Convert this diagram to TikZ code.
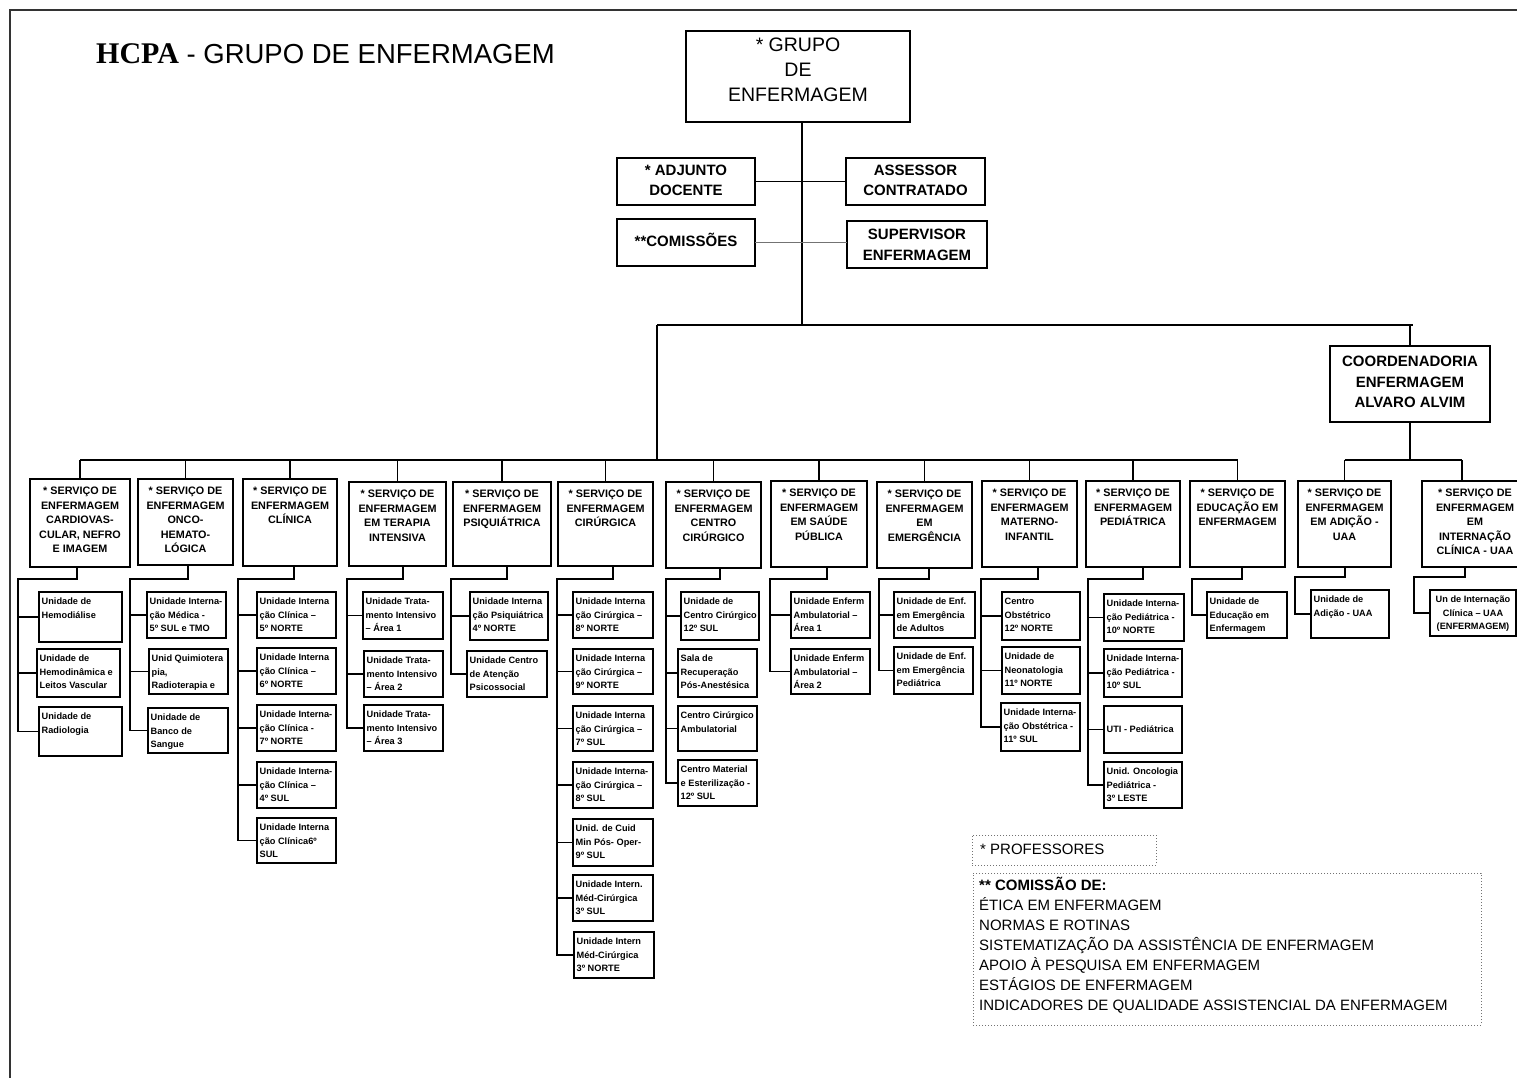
\documentclass[tikz,border=0pt]{standalone}
\usepackage{fontspec}
\setmainfont{Liberation Sans}
\newfontfamily\titleserif{Liberation Serif}
\tikzset{
 box/.style={draw, line width=1.5pt, inner sep=0pt, outer sep=0pt},
 tbox/.style={draw, line width=1.3pt, inner sep=0pt, outer sep=0pt},
 stext/.style={font=\bfseries\fontsize{10.8}{14.5}\selectfont, align=center, inner sep=0pt},
 utext/.style={font=\bfseries\fontsize{9.2}{13.5}\selectfont, align=left, inner sep=0pt},
 ttext/.style={font=\bfseries\fontsize{15}{20}\selectfont, align=center, inner sep=0pt},
 conn/.style={line width=1.5pt},
 tconn/.style={line width=1.3pt},
 legbox/.style={draw=black!55, dotted, line width=1pt, inner sep=0pt, outer sep=0pt},
}
\newcommand\RB[6]{\node[#6, anchor=north west, minimum width={(#4-#2)*1pt}, minimum height={(#5-#3)*1pt}] (#1) at (#2,#3) {};}
\newcommand\SBX[6]{\RB{#1}{#2}{#3}{#4}{#5}{box}\node[stext, anchor=north] (#1t) at ([yshift=-8pt]#1.north) {#6};}
\newcommand\UBX[6]{\RB{#1}{#2}{#3}{#4}{#5}{box}\node[utext, anchor=north west] (#1t) at ([xshift=2.5pt,yshift=-6pt]#1.north west) {#6};}
\newcommand\COL[6]{\draw[conn] (#1.south -| #2,0) -- (#2,#4) -- (#3,#4) |- (#5.west);
 \foreach \b in {#6}{\draw[conn] (#3,0 |- \b.west) -- (\b.west);}}
\begin{document}
\begin{tikzpicture}[x=1pt,y=-1pt]
\useasboundingbox (0,0) rectangle (1517,1078);
\clip (0,0) rectangle (1517,1078);
% frame
\draw[line width=2pt, black!80] (10,1078) -- (10,10) -- (1517,10);
% title
\node[anchor=base west, inner sep=0pt] (title) at (96,64) {{\titleserif\bfseries\fontsize{30}{30}\selectfont HCPA}\fontsize{27.5}{30}\selectfont\ - GRUPO DE ENFERMAGEM};
% top level
\RB{G}{686}{31}{910}{122}{tbox}
\node[font=\fontsize{19.5}{25}\selectfont, align=center, inner sep=0pt, anchor=north] (Gt) at ([yshift=-7pt]G.north) {* GRUPO\\DE\\ENFERMAGEM};
\RB{A}{617}{158}{755}{205}{tbox}
\node[ttext, anchor=north] (At) at ([yshift=-7pt]A.north) {* ADJUNTO\\DOCENTE};
\RB{B}{846}{158}{985}{205}{tbox}
\node[ttext, anchor=north] (Bt) at ([yshift=-7pt]B.north) {ASSESSOR\\CONTRATADO};
\RB{Cm}{617}{219}{755}{266}{tbox}
\node[ttext, anchor=base] (Cmt) at ([yshift=-4pt]Cm.center) {**COMISSÕES};
\RB{Sp}{847}{221}{987}{268}{tbox}
\node[ttext, anchor=north, font=\bfseries\fontsize{15}{21}\selectfont] (Spt) at ([yshift=-8pt]Sp.north) {SUPERVISOR\\ENFERMAGEM};
\RB{Co}{1330}{346}{1490}{422}{tbox}
\node[ttext, anchor=north, font=\bfseries\fontsize{15}{20.5}\selectfont] (Cot) at ([yshift=-10pt]Co.north) {COORDENADORIA\\ENFERMAGEM\\ALVARO ALVIM};
\coordinate (hub) at (802,325);
\coordinate (tl) at (657,325);
\coordinate (tr) at (1413,325);
\coordinate (bus) at (0,460);
\draw[tconn] (G.south -| hub) -- (hub);
\draw[tconn] (A.east) -- (B.west);
\draw[line width=1.8pt, black!55] (Cm.east) -- (Cm.east -| Sp.west);
\draw[tconn] (tl) -- (tr);
\draw[tconn] (Co.north |- tr) -- (Co.north);
\draw[tconn] (tl) -- (tl |- bus);
% services
\SBX{S1}{30}{479}{130}{567}{* SERVIÇO DE\\ENFERMAGEM\\CARDIOVAS-\\CULAR, NEFRO\\E IMAGEM}
\SBX{S2}{138}{479}{233}{565}{* SERVIÇO DE\\ENFERMAGEM\\ONCO-\\HEMATO-\\LÓGICA}
\SBX{S3}{243}{479}{337}{566}{* SERVIÇO DE\\ENFERMAGEM\\CLÍNICA}
\SBX{S4}{349}{482}{446}{566}{* SERVIÇO DE\\ENFERMAGEM\\EM TERAPIA\\INTENSIVA}
\SBX{S5}{453}{482}{551}{566}{* SERVIÇO DE\\ENFERMAGEM\\PSIQUIÁTRICA}
\SBX{S6}{558}{482}{653}{566}{* SERVIÇO DE\\ENFERMAGEM\\CIRÚRGICA}
\SBX{S7}{666}{482}{761}{568}{* SERVIÇO DE\\ENFERMAGEM\\CENTRO\\CIRÚRGICO}
\SBX{S8}{771}{481}{867}{567}{* SERVIÇO DE\\ENFERMAGEM\\EM SAÚDE\\PÚBLICA}
\SBX{S9}{877}{482}{972}{568}{* SERVIÇO DE\\ENFERMAGEM\\EM\\EMERGÊNCIA}
\SBX{S10}{982}{481}{1077}{567}{* SERVIÇO DE\\ENFERMAGEM\\MATERNO-\\INFANTIL}
\SBX{S11}{1086}{481}{1180}{567}{* SERVIÇO DE\\ENFERMAGEM\\PEDIÁTRICA}
\SBX{S12}{1190}{481}{1285}{567}{* SERVIÇO DE\\EDUCAÇÃO EM\\ENFERMAGEM}
\SBX{S13}{1298}{481}{1391}{567}{* SERVIÇO DE\\ENFERMAGEM\\EM ADIÇÃO -\\UAA}
\SBX{S14}{1422}{481}{1528}{567}{* SERVIÇO DE\\ENFERMAGEM\\EM\\INTERNAÇÃO\\CLÍNICA - UAA}
% service bus
\draw[conn] (S1.north |- bus) -- (S12.north |- bus);
\foreach \s in {S1,S2,S3,S4,S5,S6,S7,S8,S9,S10,S11,S12}{\draw[conn] (\s.north |- bus) -- (\s.north);}
\coordinate (t14) at (1462,460);
\draw[conn] (Co.south) -- (Co.south |- bus);
\draw[conn] (S13.north |- bus) -- (t14);
\draw[conn] (S13.north |- bus) -- (S13.north);
\draw[conn] (t14) -- (t14 |- S14.north);
% units
\UBX{u1a}{39}{592}{122}{642}{Unidade de\\Hemodiálise}
\UBX{u1b}{37}{649}{120}{697}{Unidade de\\Hemodinâmica e\\Leitos Vascular}
\UBX{u1c}{39}{707}{122}{756}{Unidade de\\Radiologia}
\UBX{u2a}{147}{592}{226}{638}{Unidade Interna-\\ção Médica -\\5º SUL e TMO}
\UBX{u2b}{149}{649}{228}{694}{Unid Quimiotera\\pia,\\Radioterapia e}
\UBX{u2c}{148}{708}{228}{753}{Unidade de\\Banco de\\Sangue}
\UBX{u3a}{257}{592}{336}{638}{Unidade Interna\\ção Clínica –\\5º NORTE}
\UBX{u3b}{257}{648}{336}{694}{Unidade Interna\\ção Clínica –\\6º NORTE}
\UBX{u3c}{257}{705}{336}{751}{Unidade Interna-\\ção Clínica -\\7º NORTE}
\UBX{u3d}{257}{762}{336}{808}{Unidade Interna-\\ção Clínica –\\4º SUL}
\UBX{u3e}{257}{818}{336}{863}{Unidade Interna\\ção Clínica6º\\SUL}
\UBX{u4a}{363}{592}{443}{639}{Unidade Trata-\\mento Intensivo\\– Área 1}
\UBX{u4b}{364}{651}{443}{697}{Unidade Trata-\\mento Intensivo\\– Área 2}
\UBX{u4c}{364}{705}{443}{751}{Unidade Trata-\\mento Intensivo\\– Área 3}
\UBX{u5a}{470}{592}{548}{640}{Unidade Interna\\ção Psiquiátrica\\4º NORTE}
\UBX{u5b}{467}{651}{547}{697}{Unidade Centro\\de Atenção\\Psicossocial}
\UBX{u6a}{573}{592}{653}{638}{Unidade Interna\\ção Cirúrgica –\\8º NORTE}
\UBX{u6b}{573}{649}{653}{694}{Unidade Interna\\ção Cirúrgica –\\9º NORTE}
\UBX{u6c}{573}{706}{653}{751}{Unidade Interna\\ção Cirúrgica –\\7º SUL}
\UBX{u6d}{573}{762}{653}{808}{Unidade Interna-\\ção Cirúrgica –\\8º SUL}
\UBX{u6e}{573}{819}{653}{866}{Unid. de Cuid\\Min Pós- Oper-\\9º SUL}
\UBX{u6f}{573}{875}{653}{921}{Unidade Intern.\\Méd-Cirúrgica\\3º SUL}
\UBX{u6g}{574}{932}{654}{978}{Unidade Intern\\Méd-Cirúrgica\\3º NORTE}
\UBX{u7a}{681}{592}{759}{640}{Unidade de\\Centro Cirúrgico\\12º SUL}
\UBX{u7b}{678}{649}{757}{697}{Sala de\\Recuperação\\Pós-Anestésica}
\UBX{u7c}{678}{706}{757}{751}{Centro Cirúrgico\\Ambulatorial}
\UBX{u7d}{678}{760}{757}{806}{Centro Material\\e Esterilização -\\12º SUL}
\UBX{u8a}{791}{592}{870}{638}{Unidade Enferm\\Ambulatorial –\\Área 1}
\UBX{u8b}{791}{649}{870}{694}{Unidade Enferm\\Ambulatorial –\\Área 2}
\UBX{u9a}{894}{592}{975}{638}{Unidade de Enf.\\em Emergência\\de Adultos}
\UBX{u9b}{894}{647}{973}{694}{Unidade de Enf.\\em Emergência\\Pediátrica}
\UBX{u10a}{1002}{592}{1080}{640}{Centro\\Obstétrico\\12º NORTE}
\UBX{u10b}{1002}{647}{1080}{694}{Unidade de\\Neonatologia\\11º NORTE}
\UBX{u10c}{1001}{703}{1080}{751}{Unidade Interna-\\ção Obstétrica -\\11º SUL}
\UBX{u11a}{1104}{594}{1184}{641}{Unidade Interna-\\ção Pediátrica -\\10º NORTE}
\UBX{u11b}{1104}{649}{1182}{697}{Unidade Interna-\\ção Pediátrica -\\10º SUL}
\RB{u11c}{1104}{706}{1182}{753}{box}
\node[utext, anchor=west] (u11ct) at ([xshift=2.5pt]u11c.west) {UTI - Pediátrica};
\UBX{u11d}{1104}{762}{1182}{808}{Unid. Oncologia\\Pediátrica -\\3º LESTE}
\UBX{u12a}{1207}{592}{1287}{638}{Unidade de\\Educação em\\Enfermagem}
\UBX{u13a}{1311}{590}{1389}{638}{Unidade de\\Adição - UAA}
\RB{u14a}{1430}{590}{1516}{636}{box}
\node[utext, align=center, anchor=north] (u14at) at ([yshift=-6pt]u14a.north) {Un de Internação\\Clínica – UAA\\(ENFERMAGEM)};
% unit connectors
\COL{S1}{77}{18}{579}{u1c}{u1a,u1b}
\COL{S2}{188}{130}{579}{u2c}{u2a,u2b}
\COL{S3}{294}{238}{579}{u3e}{u3a,u3b,u3c,u3d}
\COL{S4}{403}{347}{579}{u4c}{u4a,u4b}
\COL{S5}{507}{451}{579}{u5b}{u5a}
\COL{S6}{613}{557}{579}{u6g}{u6a,u6b,u6c,u6d,u6e,u6f}
\COL{S7}{720}{666}{579}{u7d}{u7a,u7b,u7c}
\COL{S8}{827}{770}{579}{u8b}{u8a}
\COL{S9}{929}{879}{579}{u9b}{u9a}
\COL{S10}{1038}{981}{579}{u10c}{u10a,u10b}
\COL{S11}{1143}{1088}{579}{u11d}{u11a,u11b,u11c}
\COL{S12}{1242}{1192}{579}{u12a}{u12a}
\COL{S13}{1345}{1295}{577}{u13a}{u13a}
\COL{S14}{1465}{1414}{577}{u14a}{u14a}
% legend
\node[legbox, anchor=north west, minimum width=184pt, minimum height=30pt] (P) at (972,835) {};
\node[font=\fontsize{15}{18}\selectfont, anchor=west, inner sep=0pt] (Pt) at ([xshift=8pt,yshift=1pt]P.west) {* PROFESSORES};
\node[legbox, anchor=north west, minimum width=508pt, minimum height=152pt] (L) at (973,873) {};
\node[font=\fontsize{15}{20}\selectfont, align=left, anchor=north west, inner sep=0pt] (Lt) at ([xshift=6pt,yshift=-4pt]L.north west) {\textbf{** COMISSÃO DE:}\\ÉTICA EM ENFERMAGEM\\NORMAS E ROTINAS\\SISTEMATIZAÇÃO DA ASSISTÊNCIA DE ENFERMAGEM\\APOIO À PESQUISA EM ENFERMAGEM\\ESTÁGIOS DE ENFERMAGEM\\INDICADORES DE QUALIDADE ASSISTENCIAL DA ENFERMAGEM};
\end{tikzpicture}
\end{document}
